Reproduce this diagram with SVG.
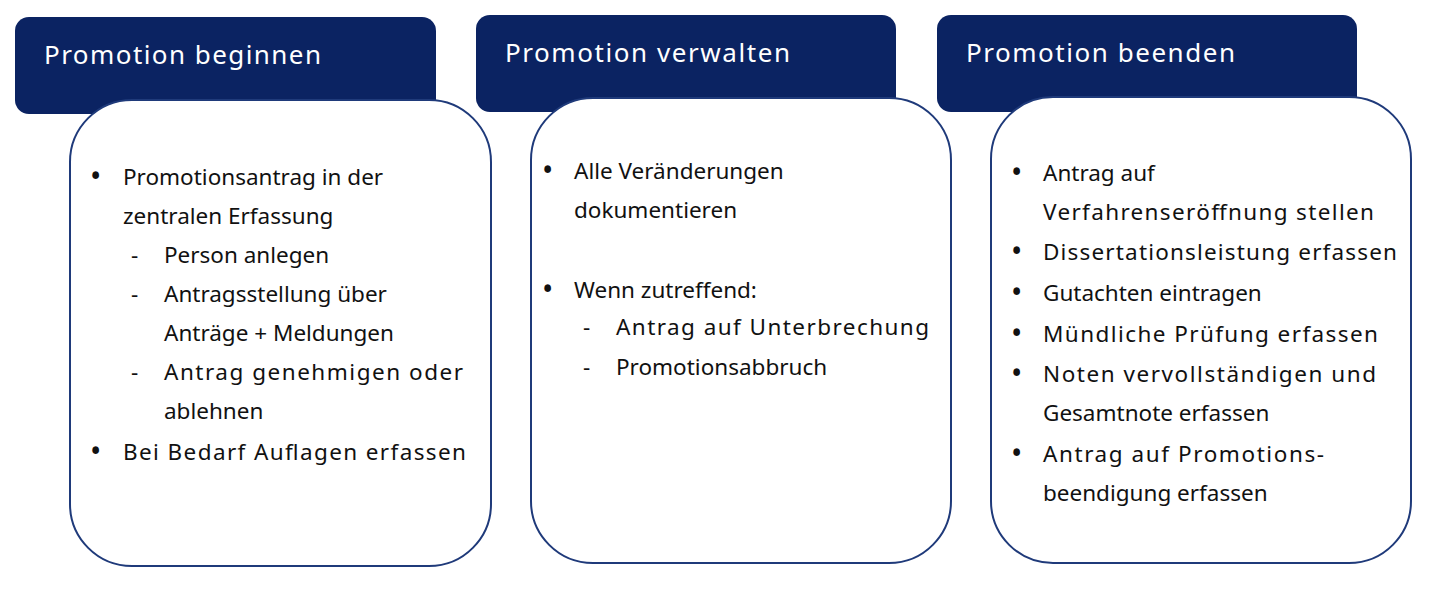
<svg xmlns="http://www.w3.org/2000/svg" width="1440" height="590" viewBox="0 0 1440 590">
<style>
.tab{fill:#0b2362}
.card{fill:#fff;stroke:#1f3a7a;stroke-width:2}
.h{font-family:"Noto Sans","Open Sans",sans-serif;font-size:26px;fill:#fff}
.t{font-family:"Noto Sans","Open Sans",sans-serif;font-size:22.5px;fill:#111}
.b{font-size:30px}
</style>
<rect width="1440" height="590" fill="#fff"/>
<g id="node1">
<rect class="tab" x="15" y="17" width="421" height="97" rx="14"/>
<text class="h" x="44" y="64" textLength="277">Promotion beginnen</text>
<rect class="card" x="70" y="100" width="421" height="466" rx="62"/>
<g class="t">
<text class="b" x="90" y="187">•</text><text x="123" y="185">Promotionsantrag in der</text>
<text x="123" y="224">zentralen Erfassung</text>
<text x="131" y="263">-</text><text x="164" y="263">Person anlegen</text>
<text x="131" y="302">-</text><text x="164" y="302">Antragsstellung über</text>
<text x="164" y="341">Anträge + Meldungen</text>
<text x="131" y="380">-</text><text x="164" y="380" textLength="299" lengthAdjust="spacing">Antrag genehmigen oder</text>
<text x="164" y="419">ablehnen</text>
<text class="b" x="90" y="462">•</text><text x="123" y="460" textLength="343" lengthAdjust="spacing">Bei Bedarf Auflagen erfassen</text>
</g>
</g>
<g id="node2">
<rect class="tab" x="476" y="15" width="420" height="97" rx="14"/>
<text class="h" x="505" y="62" textLength="285">Promotion verwalten</text>
<rect class="card" x="531" y="98" width="420" height="465" rx="62"/>
<g class="t">
<text class="b" x="542" y="181">•</text><text x="574" y="179">Alle Veränderungen</text>
<text x="574" y="218">dokumentieren</text>
<text class="b" x="542" y="300">•</text><text x="574" y="298">Wenn zutreffend:</text>
<text x="583" y="335">-</text><text x="616" y="335" textLength="313" lengthAdjust="spacing">Antrag auf Unterbrechung</text>
<text x="583" y="375">-</text><text x="616" y="375">Promotionsabbruch</text>
</g>
</g>
<g id="node3">
<rect class="tab" x="937" y="15" width="420" height="97" rx="14"/>
<text class="h" x="966" y="62" textLength="269">Promotion beenden</text>
<rect class="card" x="991" y="97" width="420" height="466" rx="62"/>
<g class="t">
<text class="b" x="1011" y="183">•</text><text x="1043" y="181">Antrag auf</text>
<text x="1043" y="220" textLength="331" lengthAdjust="spacing">Verfahrenseröffnung stellen</text>
<text class="b" x="1011" y="262">•</text><text x="1043" y="260" textLength="354" lengthAdjust="spacing">Dissertationsleistung erfassen</text>
<text class="b" x="1011" y="303">•</text><text x="1043" y="301">Gutachten eintragen</text>
<text class="b" x="1011" y="344">•</text><text x="1043" y="342" textLength="335" lengthAdjust="spacing">Mündliche Prüfung erfassen</text>
<text class="b" x="1011" y="384">•</text><text x="1043" y="382" textLength="333" lengthAdjust="spacing">Noten vervollständigen und</text>
<text x="1043" y="421">Gesamtnote erfassen</text>
<text class="b" x="1011" y="464">•</text><text x="1043" y="462" textLength="281" lengthAdjust="spacing">Antrag auf Promotions-</text>
<text x="1043" y="501">beendigung erfassen</text>
</g>
</g>
<g id="connectors"/>
</svg>
